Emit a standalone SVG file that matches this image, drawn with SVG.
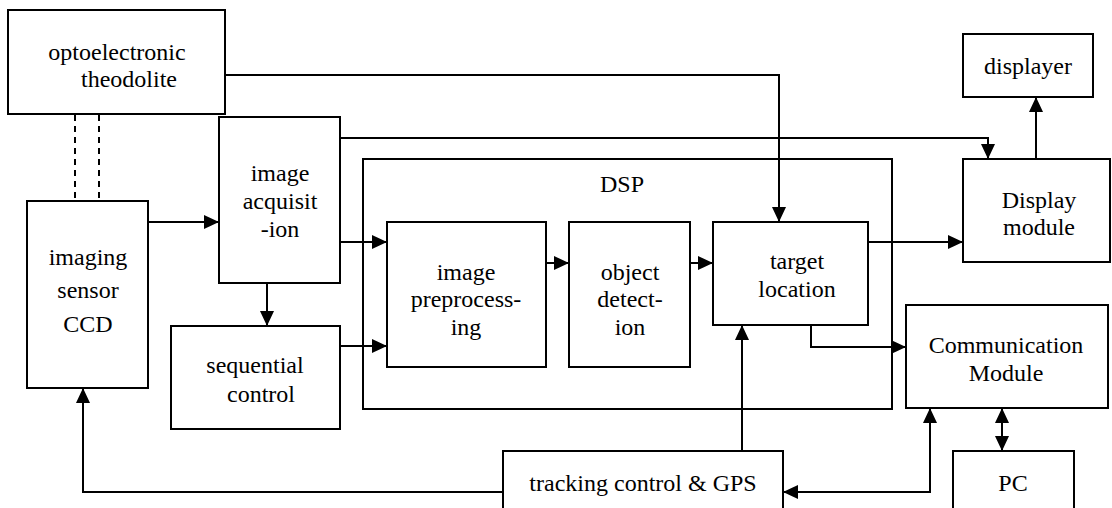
<svg xmlns="http://www.w3.org/2000/svg" width="1112" height="508" viewBox="0 0 1112 508">
<style>
.box{fill:#fff;stroke:#000;stroke-width:2}
.frame{fill:none;stroke:#000;stroke-width:2}
.t{font-family:'Liberation Serif','Times New Roman','DejaVu Serif',serif;font-size:24px;fill:#000;text-anchor:middle}
.c{fill:none;stroke:#000;stroke-width:2}
.a{marker-end:url(#ah)}
.b{marker-start:url(#ah);marker-end:url(#ah)}
.d{fill:none;stroke:#000;stroke-width:2;stroke-dasharray:6 5}
</style>
<defs>
<marker id="ah" markerUnits="userSpaceOnUse" markerWidth="15" markerHeight="14" refX="15" refY="7" orient="auto-start-reverse">
<path d="M0,0 L15,7 L0,14 z" fill="#000"/>
</marker>
</defs>
<rect width="1112" height="508" fill="#fff"/>
<g id="dsp">
<rect class="frame" x="363" y="159" width="529" height="250"/>
<text class="t" x="622" y="192" font-family="Liberation Serif, serif">DSP</text>
</g>
<g id="connectors">
<polyline class="c a" points="225,75 779,75 779,222"/>
<polyline class="c a" points="340,138 988,138 988,159"/>
<line class="c a" x1="148" y1="222" x2="219" y2="222"/>
<line class="c a" x1="340" y1="242" x2="387" y2="242"/>
<line class="c a" x1="267" y1="283" x2="267" y2="326"/>
<line class="c a" x1="340" y1="346" x2="387" y2="346"/>
<line class="c a" x1="546" y1="263" x2="569" y2="263"/>
<line class="c a" x1="690" y1="263" x2="713" y2="263"/>
<line class="c a" x1="868" y1="242" x2="963" y2="242"/>
<line class="c a" x1="1036" y1="159" x2="1036" y2="97"/>
<polyline class="c a" points="811,325 811,347 906,347"/>
<line class="c a" x1="742" y1="451" x2="742" y2="325"/>
<polyline class="c a" points="503,492 83,492 83,388"/>
<polyline class="c b" points="783,492 930,492 930,408"/>
<line class="c b" x1="1002" y1="408" x2="1002" y2="451"/>
<line class="d" x1="75" y1="115" x2="75" y2="201"/>
<line class="d" x1="99" y1="115" x2="99" y2="201"/>
</g>
<g id="opto">
<rect class="box" x="8" y="10" width="217" height="104"/>
<text class="t" x="117" y="60">optoelectronic</text>
<text class="t" x="129" y="87">theodolite</text>
</g>
<g id="ccd">
<rect class="box" x="27" y="201" width="121" height="187"/>
<text class="t" x="88" y="265">imaging</text>
<text class="t" x="88" y="298">sensor</text>
<text class="t" x="88" y="332">CCD</text>
</g>
<g id="acq">
<rect class="box" x="219" y="117" width="121" height="166"/>
<text class="t" x="280" y="181">image</text>
<text class="t" x="280" y="209">acquisit</text>
<text class="t" x="280" y="237">-ion</text>
</g>
<g id="seq">
<rect class="box" x="171" y="326" width="169" height="103"/>
<text class="t" x="255" y="373">sequential</text>
<text class="t" x="261" y="402">control</text>
</g>
<g id="preproc">
<rect class="box" x="387" y="222" width="159" height="145"/>
<text class="t" x="466" y="280">image</text>
<text class="t" x="466" y="307">preprocess-</text>
<text class="t" x="466" y="335">ing</text>
</g>
<g id="objdet">
<rect class="box" x="569" y="222" width="121" height="145"/>
<text class="t" x="630" y="280">object</text>
<text class="t" x="630" y="307">detect-</text>
<text class="t" x="630" y="335">ion</text>
</g>
<g id="target">
<rect class="box" x="713" y="222" width="155" height="103"/>
<text class="t" x="797" y="269">target</text>
<text class="t" x="797" y="297">location</text>
</g>
<g id="displayer">
<rect class="box" x="963" y="34" width="130" height="63"/>
<text class="t" x="1028" y="74">displayer</text>
</g>
<g id="display">
<rect class="box" x="963" y="159" width="147" height="103"/>
<text class="t" x="1039" y="208">Display</text>
<text class="t" x="1039" y="235">module</text>
</g>
<g id="comm">
<rect class="box" x="906" y="305" width="202" height="103"/>
<text class="t" x="1006" y="353">Communication</text>
<text class="t" x="1006" y="381">Module</text>
</g>
<g id="tracking">
<rect class="box" x="503" y="451" width="280" height="64"/>
<text class="t" x="643" y="491">tracking control &amp; GPS</text>
</g>
<g id="pc">
<rect class="box" x="953" y="451" width="121" height="64"/>
<text class="t" x="1013" y="491">PC</text>
</g>
</svg>
